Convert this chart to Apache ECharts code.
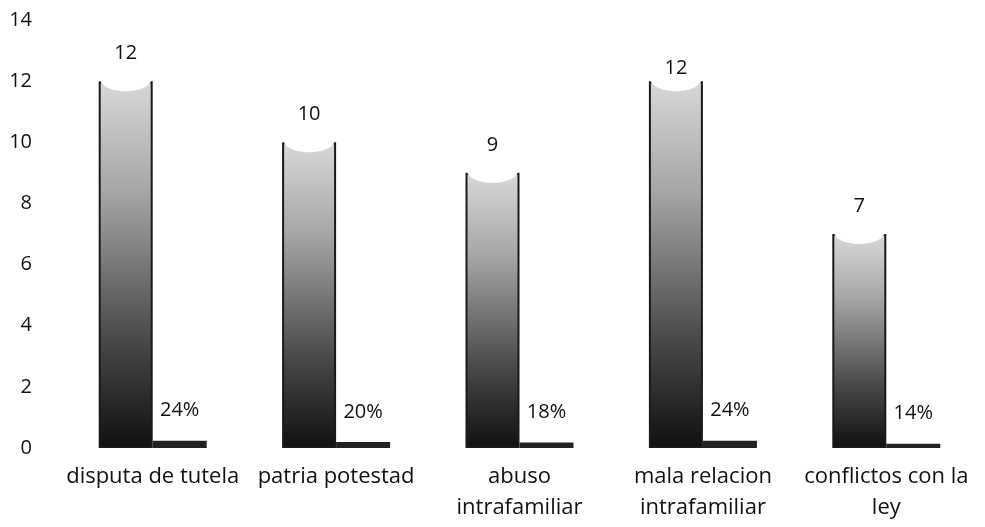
<!DOCTYPE html>
<html><head><meta charset="utf-8">
<script src="https://cdn.jsdelivr.net/npm/echarts@6/dist/echarts.min.js"></script>
<style>html,body{margin:0;padding:0;background:#fff}#c{width:985px;height:527px}</style>
</head><body><div id="c"></div>
<script>
const categories = ['disputa de tutela', 'patria potestad', 'abuso\nintrafamiliar', 'mala relacion\nintrafamiliar', 'conflictos con la\nley'];
const counts = [12, 10, 9, 12, 7];
const shares = [0.24, 0.20, 0.18, 0.24, 0.14];
const yTicks = [0, 2, 4, 6, 8, 10, 12, 14];

const font = 'Open Sans';
const chart = echarts.init(document.getElementById('c'));
chart.setOption({
  animation: false,
  textStyle: { fontFamily: font },
  grid: { left: 61, right: 7, top: 20, bottom: 79 },
  xAxis: {
    type: 'category', data: categories,
    axisLine: { show: false }, axisTick: { show: false },
    axisLabel: { color: '#111', fontSize: 22, fontFamily: font, margin: 13, lineHeight: 31, interval: 0 }
  },
  yAxis: {
    type: 'value', min: 0, max: 14, interval: 2,
    splitLine: { show: false }, axisLine: { show: false }, axisTick: { show: false },
    axisLabel: { color: '#111', fontSize: 20, fontFamily: font, margin: 29, align: 'right',
      formatter: v => yTicks.includes(v) ? String(v) : '' }
  },
  series: [
    {
      type: 'bar',
      data: counts.map((v, i) => i === 3 ? { value: v, label: { distance: 3 } } : v),
      barGap: '0%', barWidth: 54, z: 2,
      itemStyle: {
        color: new echarts.graphic.LinearGradient(0, 0, 0, 1, [
          { offset: 0, color: '#d8d8d8' },
          { offset: 0.3, color: '#a6a6a6' },
          { offset: 0.7, color: '#4a4a4a' },
          { offset: 1, color: '#101010' }
        ]),
        borderColor: '#1a1a1a', borderWidth: 2
      },
      label: { show: true, position: 'top', distance: 18, color: '#111', fontSize: 20, fontFamily: font }
    },
    {
      type: 'bar', data: shares, barWidth: 54,
      itemStyle: { color: '#222' },
      label: { show: true, position: 'top', distance: 20, color: '#111', fontSize: 20, fontFamily: font,
        formatter: p => Math.round(p.value * 100) + '%' }
    },
    {
      type: 'pictorialBar', data: counts,
      symbol: 'path://M0,0 A50,20 0 0 0 100,0 Z', symbolSize: [51, 12],
      symbolPosition: 'end', symbolOffset: [-27, -2], z: 3,
      itemStyle: { color: '#fff' }, silent: true
    }
  ]
});
</script></body></html>
